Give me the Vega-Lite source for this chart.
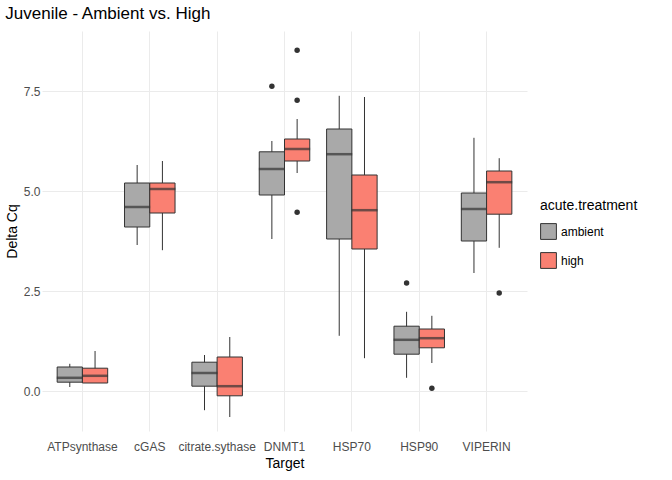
{
"$schema":"https://vega.github.io/schema/vega-lite/v6.json",
"width":485,"height":400,
"padding":{"left":5,"top":5,"right":5,"bottom":5},
"title":{"text":"Juvenile - Ambient vs. High","anchor":"start","fontSize":17,"fontWeight":"normal","font":"Liberation Sans","color":"#000","offset":8},
"config":{"view":{"stroke":null},"font":"Liberation Sans",
"axis":{"domain":false,"ticks":false,"gridColor":"#ebebeb","labelColor":"#4d4d4d","labelFontSize":12,"titleFontSize":14,"titleFontWeight":"normal","titleColor":"#000"}},
"datasets":{
"box":[
{"t":"ATPsynthase","g":"ambient","lo":0.1,"q1":0.22,"med":0.33,"q3":0.6,"hi":0.68},
{"t":"ATPsynthase","g":"high","lo":0.2,"q1":0.2,"med":0.38,"q3":0.57,"hi":1.0},
{"t":"cGAS","g":"ambient","lo":3.65,"q1":4.1,"med":4.6,"q3":5.2,"hi":5.65},
{"t":"cGAS","g":"high","lo":3.52,"q1":4.45,"med":5.05,"q3":5.2,"hi":5.75},
{"t":"citrate.sythase","g":"ambient","lo":-0.48,"q1":0.12,"med":0.45,"q3":0.72,"hi":0.9},
{"t":"citrate.sythase","g":"high","lo":-0.65,"q1":-0.12,"med":0.12,"q3":0.85,"hi":1.35},
{"t":"DNMT1","g":"ambient","lo":3.8,"q1":4.9,"med":5.55,"q3":5.98,"hi":6.25},
{"t":"DNMT1","g":"high","lo":5.45,"q1":5.75,"med":6.05,"q3":6.3,"hi":6.8},
{"t":"HSP70","g":"ambient","lo":1.38,"q1":3.8,"med":5.92,"q3":6.55,"hi":7.38},
{"t":"HSP70","g":"high","lo":0.82,"q1":3.55,"med":4.52,"q3":5.4,"hi":7.35},
{"t":"HSP90","g":"ambient","lo":0.33,"q1":0.92,"med":1.28,"q3":1.62,"hi":1.98},
{"t":"HSP90","g":"high","lo":0.7,"q1":1.08,"med":1.32,"q3":1.55,"hi":1.88},
{"t":"VIPERIN","g":"ambient","lo":2.95,"q1":3.75,"med":4.55,"q3":4.95,"hi":6.33},
{"t":"VIPERIN","g":"high","lo":3.58,"q1":4.42,"med":5.22,"q3":5.5,"hi":5.82}],
"out":[
{"t":"DNMT1","g":"ambient","v":7.62},
{"t":"DNMT1","g":"high","v":8.52},
{"t":"DNMT1","g":"high","v":7.27},
{"t":"DNMT1","g":"high","v":4.47},
{"t":"HSP90","g":"ambient","v":2.7},
{"t":"HSP90","g":"high","v":0.07},
{"t":"VIPERIN","g":"high","v":2.45}]},
"encoding":{
"x":{"field":"t","type":"nominal","title":"Target","sort":["ATPsynthase","cGAS","citrate.sythase","DNMT1","HSP70","HSP90","VIPERIN"],"scale":{"paddingInner":0.25,"paddingOuter":0.225},"axis":{"labelAngle":0,"grid":true,"labelPadding":10,"titlePadding":4}},
"xOffset":{"field":"g","type":"nominal","scale":{"paddingInner":0,"paddingOuter":0}}
},
"layer":[
{"data":{"name":"box"},"mark":{"type":"rule","color":"#333","strokeWidth":1},
 "encoding":{"y":{"field":"lo","type":"quantitative","title":"Delta Cq","scale":{"domain":[-1,9],"nice":false},"axis":{"values":[0,2.5,5,7.5],"format":".1f"}},"y2":{"field":"hi"}}},
{"data":{"name":"box"},"mark":{"type":"bar","stroke":"#333","strokeWidth":1},
 "encoding":{"y":{"field":"q1","type":"quantitative"},"y2":{"field":"q3"},
 "fill":{"field":"g","type":"nominal","title":"acute.treatment","scale":{"domain":["ambient","high"],"range":["#A9A9A9","#FA8072"]},
 "legend":{"orient":"none","legendX":498,"legendY":168,"symbolType":"square","symbolSize":250,"symbolStrokeColor":"#333","symbolStrokeWidth":1,"titleFontSize":14,"titleFontWeight":"normal","labelFontSize":12,"titleColor":"#000","labelColor":"#000","rowPadding":8,"titlePadding":10}}}},
{"data":{"name":"box"},"mark":{"type":"tick","color":"#333","thickness":2.5,"size":26},
 "encoding":{"y":{"field":"med","type":"quantitative"}}},
{"data":{"name":"out"},"mark":{"type":"circle","color":"#333","opacity":1,"size":30},
 "encoding":{"y":{"field":"v","type":"quantitative"}}}
]
}
